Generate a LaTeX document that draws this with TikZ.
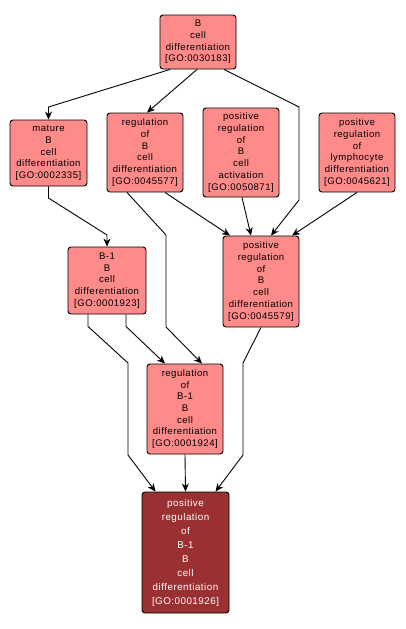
\documentclass[tikz,border=0pt]{standalone}
\usepackage{fontspec}
\newfontfamily\gofont[LetterSpace=5]{Liberation Sans}
\usetikzlibrary{arrows.meta}
\definecolor{termfill}{RGB}{255,138,138}
\definecolor{queryfill}{RGB}{155,48,50}

\begin{document}
\begin{tikzpicture}[x=1pt,y=-1pt,line width=0.9pt]
\tikzstyle{term}=[draw,rounded corners=3pt,fill=termfill,inner sep=0pt,align=center,minimum width=76pt,font=\gofont\fontsize{9.6}{11.7}\selectfont]
\tikzstyle{query}=[term,fill=queryfill,text=white,minimum width=87pt,font=\gofont\fontsize{9.8}{14}\selectfont]
\tikzstyle{isa}=[-{Stealth[length=8pt,width=7pt,inset=2.5pt]}]
\useasboundingbox (0,0) rectangle (406,629);
\node [term,minimum height=54pt] (bcd) at (198,42) {B\\cell\\differentiation\\{[GO:0030183]}};
\node [term,minimum width=77pt,minimum height=66pt] (mbcd) at (48.5,153) {mature\\B\\cell\\differentiation\\{[GO:0002335]}};
\node [term,minimum height=79pt] (rbcd) at (145,152.5) {regulation\\of\\B\\cell\\differentiation\\{[GO:0045577]}};
\node [term,minimum height=89pt] (prbca) at (241,152.5) {positive\\regulation\\of\\B\\cell\\activation\\{[GO:0050871]}};
\node [term,minimum height=79pt] (prld) at (357,152.5) {positive\\regulation\\of\\lymphocyte\\differentiation\\{[GO:0045621]}};
\node [term,minimum width=78pt,minimum height=67pt] (b1) at (107,280.5) {B-1\\B\\cell\\differentiation\\{[GO:0001923]}};
\node [term,minimum height=91pt] (prbcd) at (261,281.5) {positive\\regulation\\of\\B\\cell\\differentiation\\{[GO:0045579]}};
\node [term,minimum height=90pt] (rb1) at (185,409) {regulation\\of\\B-1\\B\\cell\\differentiation\\{[GO:0001924]}};
\node [query,minimum height=121pt] (prb1) at (185.5,552.5) {positive\\regulation\\of\\B-1\\B\\cell\\differentiation\\{[GO:0001926]}};
% is_a links
\draw [isa] ([xshift=-28pt]bcd.south) -- (48.5,107) -- (mbcd.north);
\draw [isa] ([xshift=-1pt]bcd.south) -- ([xshift=2pt]rbcd.north);
\draw [isa] ([xshift=26pt]bcd.south) -- (299,107) -- (299,200) -- ([xshift=10pt]prbcd.north);
\draw [isa] (mbcd.south) -- (48.5,198) -- (107,235) -- (b1.north);
\draw [isa] ([xshift=-18pt]rbcd.south) -- (166,235) -- (166,327) -- ([xshift=17pt]rb1.north);
\draw [isa] ([xshift=20pt]rbcd.south) -- ([xshift=-31pt]prbcd.north);
\draw [isa] ([xshift=1pt]prbca.south) -- ([xshift=-10pt]prbcd.north);
\draw [isa] (prld.south) -- ([xshift=31pt]prbcd.north);
\draw [isa] ([xshift=19pt]b1.south) -- ++(0,12) -- ([xshift=-20pt]rb1.north);
\draw [isa] ([xshift=-19pt]b1.south) -- ++(0,12) -- (128,363) -- (128,455) -- ([xshift=-30pt]prb1.north);
\draw [isa] (rb1.south) -- (prb1.north);
\draw [isa] (prbcd.south) -- (243,363) -- (243,455) -- ([xshift=30pt]prb1.north);
\end{tikzpicture}
\end{document}
